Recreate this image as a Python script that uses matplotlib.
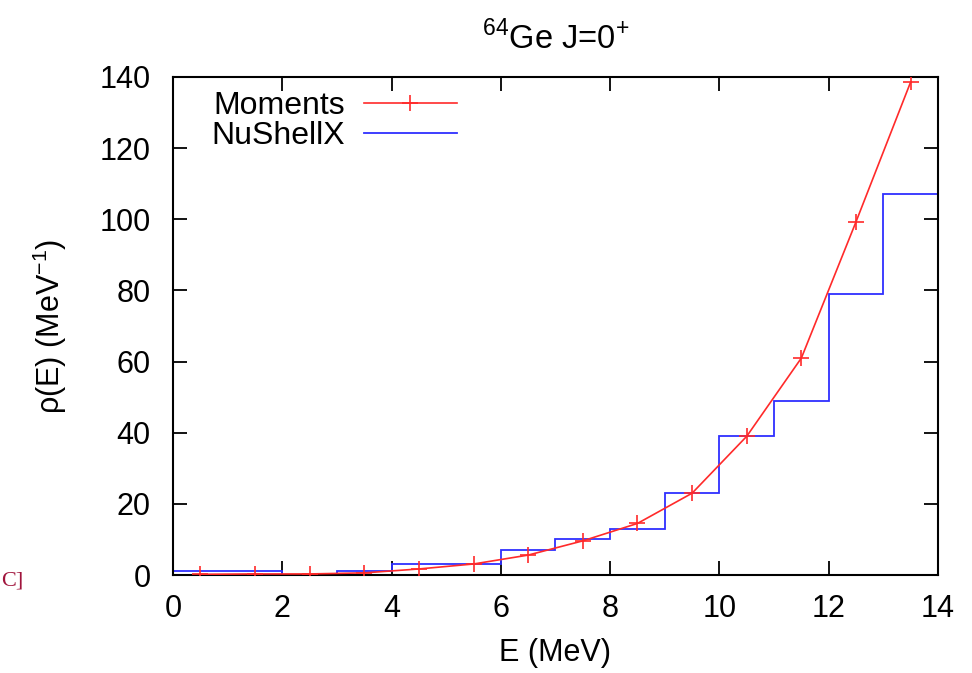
import numpy as np
import matplotlib
matplotlib.use("Agg")
from matplotlib import pyplot as plt

plt.rcParams["font.family"] = ["Liberation Sans", "DejaVu Sans"]

# ----------------------------------------------------------------------------
# Data
# ----------------------------------------------------------------------------
E_moments = [0.5, 1.5, 2.5, 3.5, 4.5, 5.5, 6.5, 7.5, 8.5, 9.5, 10.5, 11.5, 12.5, 13.5]
rho_moments = [0.2, 0.3, 0.3, 0.6, 1.7, 3.1, 5.6, 9.6, 14.5, 23.0, 39.0, 61.0, 99.3, 138.6]

E_edges = [0, 1, 2, 3, 4, 5, 6, 7, 8, 9, 10, 11, 12, 13, 14]
rho_nushellx = [1, 1, 0, 1, 3, 3, 7, 10, 13, 23, 39, 49, 79, 107]

RED = "#ff2a2a"
BLUE = "#2f2fff"

# ----------------------------------------------------------------------------
# Plot
# ----------------------------------------------------------------------------
fig = plt.figure(figsize=(9.72, 6.73), dpi=100)
ax = fig.add_axes([0.178, 0.1456, 0.787, 0.74])

ax.plot(E_moments, rho_moments, "-+", color=RED, lw=1.2,
        markersize=11, markeredgewidth=1.2, label="Moments", zorder=3)
ax.stairs(rho_nushellx, E_edges, color=BLUE, lw=1.3, label="NuShellX", zorder=2)

ax.set_xlim(0, 14)
ax.set_ylim(0, 140)
ax.set_xticks(np.arange(0, 15, 2))
ax.set_yticks(np.arange(0, 141, 20))
ax.tick_params(direction="in", length=10, width=1.3, labelsize=22,
               top=True, right=True)
ax.tick_params(axis="y", pad=16)
ax.tick_params(axis="x", pad=14)
for sp in ax.spines.values():
    sp.set_linewidth(1.5)

ax.set_xlabel("E (MeV)", fontsize=22, labelpad=10)
ax.set_ylabel("ρ(E) (MeV$^{\\mathregular{-1}}$)", fontsize=22, labelpad=22)
ax.set_title(r"$^{\mathregular{64}}$Ge J=0$^{\mathregular{+}}$", fontsize=23.5, pad=20)

ax.legend(loc="upper left", bbox_to_anchor=(0.025, 1.01), frameon=False,
          markerfirst=False, fontsize=23, handlelength=2.9,
          handletextpad=0.6, labelspacing=0.0, borderaxespad=0.2)

fig.text(0.001, 0.137, "C]", ha="left", va="center", fontsize=16,
         family=["Liberation Serif", "DejaVu Serif"], color="#a0143c")

fig.savefig("out.png", dpi=100)
